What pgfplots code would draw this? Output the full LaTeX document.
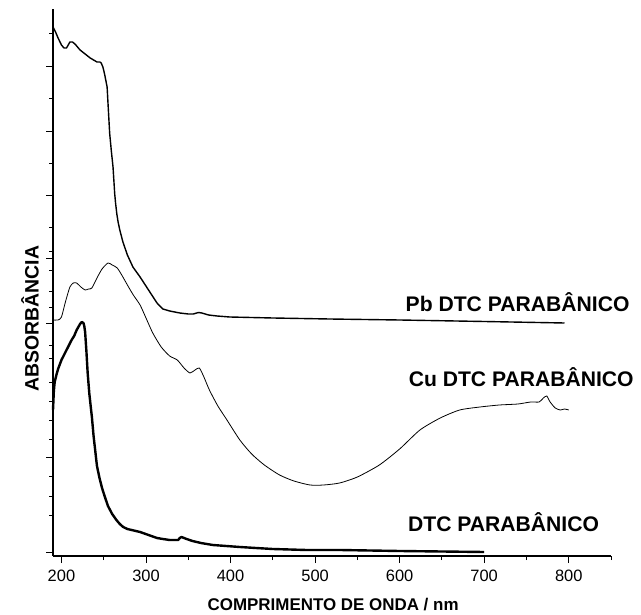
\documentclass[border=0pt]{standalone}
\usepackage{fontspec}
\setmainfont{Liberation Sans}
\usepackage{pgfplots}
\pgfplotsset{compat=1.18}
\begin{document}
\begin{tikzpicture}
\begin{axis}[name=main, scale only axis, width=558bp, height=547bp,
  xmin=190, xmax=850, ymin=0, ymax=547,
  axis x line*=bottom, axis y line*=left, clip=false,
  xtick={200,300,...,800}, minor xtick={250,350,...,850},
  ytick={4,98,232,297,360,424,489},
  minor ytick={41,60,79,116,135,154,173,197,210,248,264,285,304,328,392,457,522},
  yticklabels={},
  tick align=outside, major tick length=7bp, minor tick length=4bp,
  every tick/.style={line width=1bp, black},
  axis line style={line width=1.2bp},
  /pgf/number format/assume math mode=true,
  xticklabel style={font=\fontsize{16.5}{16.5}\selectfont, yshift=-3bp},
  xlabel={COMPRIMENTO DE ONDA / nm},
  xlabel style={font=\bfseries\fontsize{17}{17}\selectfont, at={(axis description cs:0.502,0)}, yshift=-49bp, anchor=center},
  ylabel={ABSORBÂNCIA},
  ylabel style={font=\bfseries\fontsize{19.5}{19.5}\selectfont, at={(axis description cs:-0.041,0.434)}, anchor=center},
]
% Pb DTC
\addplot[line width=1.4bp, black, line join=round] coordinates {
(190,529) (193,524) (196,518) (200,511) (203,508) (206,508) (210,514) (213,514) (216,512) (219,509) (222,506) (228,502) (234,498) (238,496) (242,494) (245.5,494) (247,493) (249,489) (251,482) (254,469) (257,423) (259,405) (261,389) (263,362) (264,353) (265.5,342) (267,334) (269,326) (272.7,314) (278,301) (284.5,289) (293,279) (303,266) (313,253) (320,247) (328,245) (340,243) (350,242) (356,242) (362,243.5) (366,243) (374,241) (384,240) (399,239) (450,238) (517,237) (600,236) (700,234.5) (795,233)};
% Cu DTC
\addplot[line width=0.8bp, black, smooth, tension=0.4] coordinates {
(190,236) (196,236) (200,239) (205,255) (210,269) (214,273) (218,273) (223,269) (228,266) (232,267) (236,268) (242,278) (248,287) (255,293) (260,291) (266,288) (272,280) (278,271) (285,261) (293,251) (300,238) (308,223) (318,209) (328,200) (337,196) (345,188) (352,183) (358,186) (363,188) (368,180) (375,166) (385,150) (395,137) (411,116) (425,102) (440,91) (458,81) (475,75) (494,71) (510,71) (529,73) (550,79) (576,91) (600,107) (624,126) (648,138) (671,146) (695,149) (718,151) (740,152) (755,154) (765,154) (770,158) (774,160) (778,154) (784,148) (790,146) (795,147) (800,146)};
% DTC
\addplot[line width=2.4bp, black, line join=round] coordinates {
(190,146) (191,165) (192,174) (194,181) (196,187) (200,196) (203,201) (206,206) (209,211) (212,216) (215,220) (218,226) (220,229) (222,232) (224,234) (226,233) (227,230) (228,224) (229.5,205) (231,183) (233,162) (236,139) (238,120) (240,105) (242,90) (245,78) (248,68) (251,60) (255,50) (260,42) (265,36) (269,32) (273,29) (278,27) (283,26) (293,24) (303,21) (313,18) (320,17) (328,16) (335,16) (338,16) (340,18) (342,19) (345,18) (348,17) (355,15) (365,13) (379,11) (395,10) (411,9) (430,8) (450,7) (490,6) (529,6) (600,5) (650,4.5) (700,4)};
\node[anchor=east, font=\bfseries\fontsize{21.2}{21.2}\selectfont] at (axis cs:876,254) {Pb DTC PARABÂNICO};
\node[anchor=east, font=\bfseries\fontsize{21.2}{21.2}\selectfont] at (axis cs:881,179) {Cu DTC PARABÂNICO};
\node[anchor=east, font=\bfseries\fontsize{21.2}{21.2}\selectfont] at (axis cs:840,34) {DTC PARABÂNICO};
\end{axis}
\path[use as bounding box] ([xshift=-53bp,yshift=-59bp]main.south west) rectangle ([xshift=30bp,yshift=9bp]main.north east);
\end{tikzpicture}
\end{document}
